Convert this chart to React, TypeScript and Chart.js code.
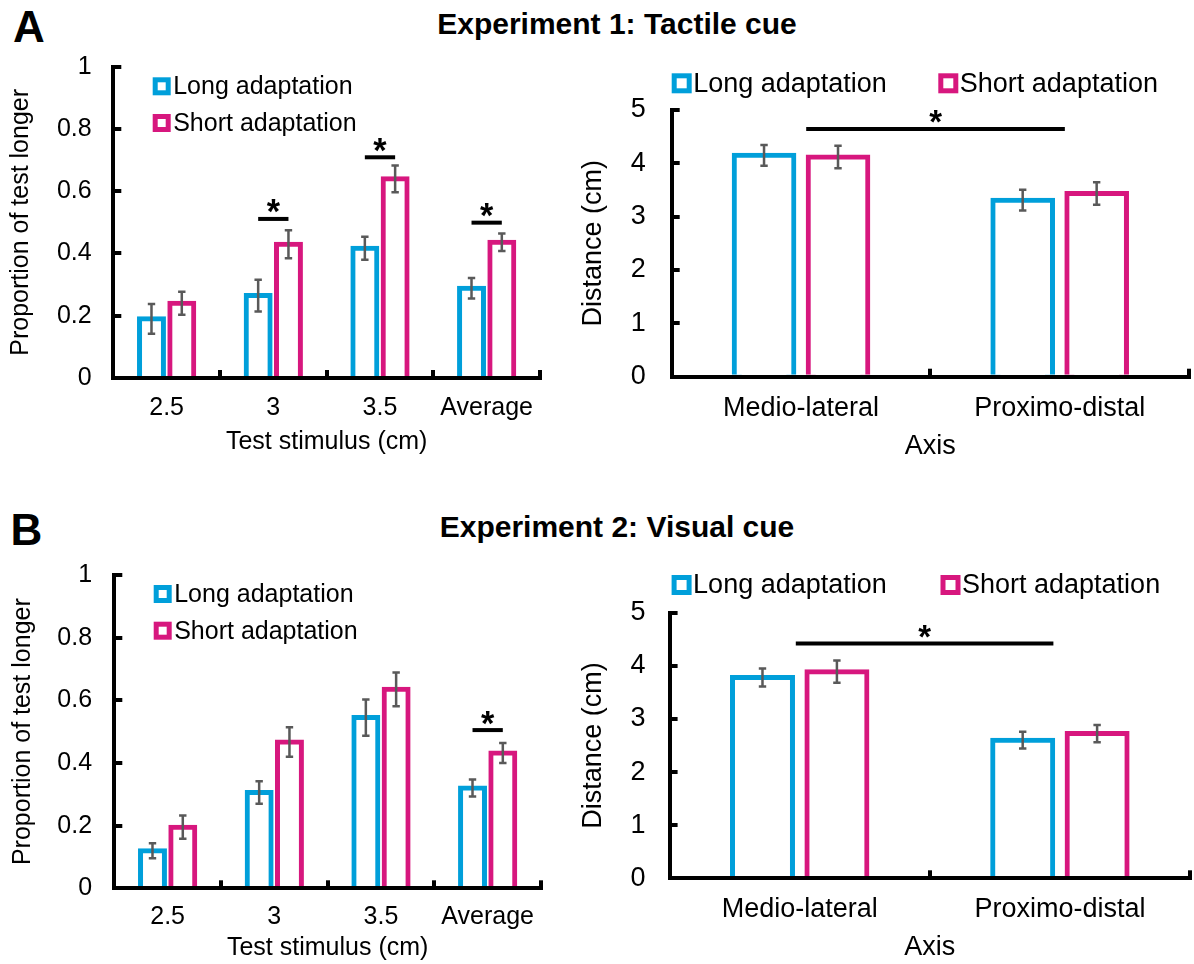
import React, { useEffect, useRef } from 'react';
import { Chart, registerables } from 'chart.js';

Chart.register(...registerables);

const FONT = "'Liberation Sans', Arial, Helvetica, sans-serif";
const BLUE = '#009FDA';
const PINK = '#D7177E';
const ERR_COLOR = '#595959';

// ---------- data ----------
const stimulusCategories = ['2.5', '3', '3.5', 'Average'];
const axisCategories = ['Medio-lateral', 'Proximo-distal'];
const proportionTicks = [0, 0.2, 0.4, 0.6, 0.8, 1];
const distanceTicks = [0, 1, 2, 3, 4, 5];
const seriesNames = ['Long adaptation', 'Short adaptation'];

// Experiment 1: Tactile cue
const exp1PropLong = [0.19, 0.265, 0.417, 0.288];
const exp1PropLongErr = [0.048, 0.051, 0.037, 0.033];
const exp1PropShort = [0.24, 0.43, 0.64, 0.436];
const exp1PropShortErr = [0.037, 0.045, 0.043, 0.028];
const exp1PropSig = [
  { cat: 1, y: 0.511 },
  { cat: 2, y: 0.709 },
  { cat: 3, y: 0.499 },
];
const exp1DistLong = [4.15, 3.31];
const exp1DistLongErr = [0.195, 0.195];
const exp1DistShort = [4.12, 3.435];
const exp1DistShortErr = [0.21, 0.21];
const exp1DistSig = [{ from: 0.02, to: 1.02, y: 4.645 }];

// Experiment 2: Visual cue
const exp2PropLong = [0.12, 0.306, 0.545, 0.32];
const exp2PropLongErr = [0.024, 0.036, 0.058, 0.027];
const exp2PropShort = [0.195, 0.467, 0.635, 0.432];
const exp2PropShortErr = [0.037, 0.047, 0.054, 0.032];
const exp2PropSig = [{ cat: 3, y: 0.505 }];
const exp2DistLong = [3.78, 2.6];
const exp2DistLongErr = [0.17, 0.157];
const exp2DistShort = [3.89, 2.725];
const exp2DistShortErr = [0.21, 0.163];
const exp2DistSig = [{ from: -0.015, to: 0.975, y: 4.42 }];

// ---------- layout ----------
type Layout = {
  left: number; top: number; width: number; height: number;
  padTop: number; padRight: number; yWidth: number; xHeight: number;
  yTickPad: number; xTickPad: number; xTitlePad: number; yTitlePad: number;
  font: number; catPct: number; barPct: number;
  legend: { dx: number; dy: number }[]; legendBox: number; legendGap: number;
  star: number;
};

const layoutA1: Layout = {
  left: 0, top: 40, width: 580, height: 420,
  padTop: 26.7, padRight: 40, yWidth: 113.3, xHeight: 82,
  yTickPad: 29.6, xTickPad: 23.3, xTitlePad: 3.3, yTitlePad: 6,
  font: 25, catPct: 0.568, barPct: 0.79,
  legend: [{ dx: 39.4, dy: 10.6 }, { dx: 39.4, dy: 47.3 }], legendBox: 18, legendGap: 2.5,
  star: 13,
};
const layoutA2: Layout = {
  left: 570, top: 40, width: 624, height: 430,
  padTop: 70, padRight: 5, yWidth: 101.7, xHeight: 93.3,
  yTickPad: 34, xTickPad: 24.1, xTitlePad: 7.1, yTitlePad: 7.3,
  font: 27, catPct: 0.572, barPct: 0.806,
  legend: [{ dx: 0, dy: -36.7 }, { dx: 266.6, dy: -36.7 }], legendBox: 20, legendGap: 1.5,
  star: 12.5,
};
const layoutB1: Layout = {
  left: 0, top: 550, width: 580, height: 414,
  padTop: 25, padRight: 39, yWidth: 114.3, xHeight: 75.7,
  yTickPad: 30.2, xTickPad: 21.4, xTitlePad: 0.7, yTitlePad: 7.7,
  font: 25, catPct: 0.568, barPct: 0.79,
  legend: [{ dx: 39.4, dy: 10 }, { dx: 39.4, dy: 46.7 }], legendBox: 18, legendGap: 2.5,
  star: 13,
};
const layoutB2: Layout = {
  left: 570, top: 550, width: 624, height: 414,
  padTop: 62.7, padRight: 4, yWidth: 99.6, xHeight: 85.7,
  yTickPad: 32, xTickPad: 23.5, xTitlePad: 0, yTitlePad: 7.2,
  font: 27, catPct: 0.572, barPct: 0.806,
  legend: [{ dx: 2, dy: -37.7 }, { dx: 270.9, dy: -37.7 }], legendBox: 20, legendGap: 1.5,
  star: 12.5,
};

type Sig = { cat?: number; from?: number; to?: number; y: number };
type Panel = {
  layout: Layout;
  categories: string[];
  long: number[]; longErr: number[];
  short: number[]; shortErr: number[];
  yTicks: number[]; yMax: number;
  xTitle: string; yTitle: string;
  sig: Sig[];
};

const panels: Panel[] = [
  {
    layout: layoutA1, categories: stimulusCategories,
    long: exp1PropLong, longErr: exp1PropLongErr, short: exp1PropShort, shortErr: exp1PropShortErr,
    yTicks: proportionTicks, yMax: 1, xTitle: 'Test stimulus (cm)', yTitle: 'Proportion of test longer',
    sig: exp1PropSig,
  },
  {
    layout: layoutA2, categories: axisCategories,
    long: exp1DistLong, longErr: exp1DistLongErr, short: exp1DistShort, shortErr: exp1DistShortErr,
    yTicks: distanceTicks, yMax: 5, xTitle: 'Axis', yTitle: 'Distance (cm)',
    sig: exp1DistSig,
  },
  {
    layout: layoutB1, categories: stimulusCategories,
    long: exp2PropLong, longErr: exp2PropLongErr, short: exp2PropShort, shortErr: exp2PropShortErr,
    yTicks: proportionTicks, yMax: 1, xTitle: 'Test stimulus (cm)', yTitle: 'Proportion of test longer',
    sig: exp2PropSig,
  },
  {
    layout: layoutB2, categories: axisCategories,
    long: exp2DistLong, longErr: exp2DistLongErr, short: exp2DistShort, shortErr: exp2DistShortErr,
    yTicks: distanceTicks, yMax: 5, xTitle: 'Axis', yTitle: 'Distance (cm)',
    sig: exp2DistSig,
  },
];

function drawStar(ctx: CanvasRenderingContext2D, cx: number, cy: number, height: number) {
  ctx.save();
  ctx.font = `bold 100px ${FONT}`;
  const m = ctx.measureText('*');
  const h100 = (m.actualBoundingBoxAscent + m.actualBoundingBoxDescent) || 33;
  const fs = height / (h100 / 100);
  ctx.font = `bold ${fs}px ${FONT}`;
  const m2 = ctx.measureText('*');
  const baseline = cy + (m2.actualBoundingBoxAscent - m2.actualBoundingBoxDescent) / 2;
  ctx.textAlign = 'center';
  ctx.textBaseline = 'alphabetic';
  ctx.fillStyle = '#000';
  ctx.fillText('*', cx, baseline);
  ctx.restore();
}

function makeAnnotPlugin(p: Panel) {
  const L = p.layout;
  return {
    id: 'annot',
    afterDatasetsDraw(chart: any) {
      const ctx: CanvasRenderingContext2D = chart.ctx;
      const y = chart.scales.y;
      const errs = [p.longErr, p.shortErr];
      const vals = [p.long, p.short];
      ctx.save();
      ctx.strokeStyle = ERR_COLOR;
      ctx.lineWidth = 2.5;
      errs.forEach((errArr, di) => {
        const meta = chart.getDatasetMeta(di);
        meta.data.forEach((bar: any, j: number) => {
          const v = vals[di][j];
          const e = errArr[j];
          const px = bar.x;
          const t = y.getPixelForValue(v + e);
          const b = y.getPixelForValue(v - e);
          ctx.beginPath();
          ctx.moveTo(px, t);
          ctx.lineTo(px, b);
          ctx.moveTo(px - 3.7, t);
          ctx.lineTo(px + 3.7, t);
          ctx.moveTo(px - 3.7, b);
          ctx.lineTo(px + 3.7, b);
          ctx.stroke();
        });
      });
      ctx.restore();
    },
    afterDraw(chart: any) {
      const ctx: CanvasRenderingContext2D = chart.ctx;
      const x = chart.scales.x;
      const y = chart.scales.y;
      const area = chart.chartArea;
      // significance markers
      ctx.save();
      ctx.strokeStyle = '#000';
      ctx.lineWidth = 4;
      p.sig.forEach((s) => {
        let x1: number, x2: number;
        if (s.cat !== undefined) {
          x1 = chart.getDatasetMeta(0).data[s.cat].x;
          x2 = chart.getDatasetMeta(1).data[s.cat].x;
        } else {
          x1 = x.getPixelForValue(s.from);
          x2 = x.getPixelForValue(s.to);
        }
        const py = y.getPixelForValue(s.y);
        ctx.beginPath();
        ctx.moveTo(x1, py);
        ctx.lineTo(x2, py);
        ctx.stroke();
        drawStar(ctx, (x1 + x2) / 2, py - 12.5, L.star);
      });
      ctx.restore();
      // legend
      ctx.save();
      const colors = [BLUE, PINK];
      L.legend.forEach((it, i) => {
        const bx = area.left + it.dx;
        const by = area.top + it.dy;
        const s = L.legendBox;
        ctx.fillStyle = '#fff';
        ctx.fillRect(bx, by, s, s);
        ctx.strokeStyle = colors[i];
        ctx.lineWidth = 5;
        ctx.strokeRect(bx + 2.5, by + 2.5, s - 5, s - 5);
        ctx.fillStyle = '#000';
        ctx.font = `${L.font}px ${FONT}`;
        ctx.textAlign = 'left';
        ctx.textBaseline = 'middle';
        ctx.fillText(seriesNames[i], bx + s + L.legendGap, by + s / 2 + 1);
      });
      ctx.restore();
    },
  };
}

function buildConfig(p: Panel): any {
  const L = p.layout;
  const font = { family: FONT, size: L.font };
  const grid = { drawOnChartArea: false, drawTicks: true, tickLength: -8, color: '#000', lineWidth: 4, z: 1 };
  const border = { display: true, color: '#000', width: 4, z: 1 };
  const zeroPad = (s: any) => {
    s.paddingTop = 0; s.paddingBottom = 0; s.paddingLeft = 0; s.paddingRight = 0;
  };
  const barCommon = {
    backgroundColor: '#ffffff', borderWidth: 5, inflateAmount: 2.5, borderSkipped: 'start',
    categoryPercentage: L.catPct, barPercentage: L.barPct,
  };
  return {
    type: 'bar',
    data: {
      labels: p.categories,
      datasets: [
        { label: seriesNames[0], data: p.long, borderColor: BLUE, ...barCommon },
        { label: seriesNames[1], data: p.short, borderColor: PINK, ...barCommon },
      ],
    },
    options: {
      responsive: false,
      animation: false,
      devicePixelRatio: 1,
      layout: { padding: { left: 0, top: L.padTop, right: L.padRight, bottom: 0 } },
      plugins: { legend: { display: false }, tooltip: { enabled: false } },
      scales: {
        x: {
          grid, border,
          ticks: { font, color: '#000', padding: L.xTickPad, maxRotation: 0, minRotation: 0, autoSkip: false },
          title: { display: true, text: p.xTitle, font, color: '#000', padding: { top: 0, bottom: L.xTitlePad } },
          afterFit: (s: any) => { s.height = L.xHeight; zeroPad(s); },
        },
        y: {
          min: 0, max: p.yMax,
          grid, border,
          afterBuildTicks: (s: any) => { s.ticks = p.yTicks.map((v) => ({ value: v })); },
          ticks: { font, color: '#000', padding: L.yTickPad, callback: (v: any) => String(v) },
          title: { display: true, text: p.yTitle, font, color: '#000', padding: { top: L.yTitlePad, bottom: 0 } },
          afterFit: (s: any) => { s.width = L.yWidth; zeroPad(s); },
        },
      },
    },
    plugins: [makeAnnotPlugin(p)],
  };
}

function ChartPanel({ panel }: { panel: Panel }) {
  const ref = useRef<HTMLCanvasElement>(null);
  useEffect(() => {
    const chart = new Chart(ref.current as HTMLCanvasElement, buildConfig(panel));
    return () => chart.destroy();
  }, [panel]);
  const L = panel.layout;
  return (
    <canvas
      ref={ref}
      width={L.width}
      height={L.height}
      style={{ position: 'absolute', left: L.left, top: L.top, width: L.width, height: L.height }}
    />
  );
}

const textBase: React.CSSProperties = {
  position: 'absolute',
  fontFamily: FONT,
  fontWeight: 'bold',
  color: '#000',
  whiteSpace: 'nowrap',
  margin: 0,
};

export default function App() {
  return (
    <div style={{ position: 'absolute', left: 0, top: 0, width: 1194, height: 964, background: '#fff', overflow: 'hidden' }}>
      <div style={{ ...textBase, left: 13, top: 5.2, fontSize: 44, lineHeight: '44px' }}>A</div>
      <div style={{ ...textBase, left: 617, top: 8.6, fontSize: 30, lineHeight: '30px', transform: 'translateX(-50%)' }}>
        Experiment 1: Tactile cue
      </div>
      <div style={{ ...textBase, left: 10.4, top: 507.7, fontSize: 44, lineHeight: '44px' }}>B</div>
      <div style={{ ...textBase, left: 617, top: 512, fontSize: 30, lineHeight: '30px', transform: 'translateX(-50%)' }}>
        Experiment 2: Visual cue
      </div>
      {panels.map((p, i) => (
        <ChartPanel key={i} panel={p} />
      ))}
    </div>
  );
}
